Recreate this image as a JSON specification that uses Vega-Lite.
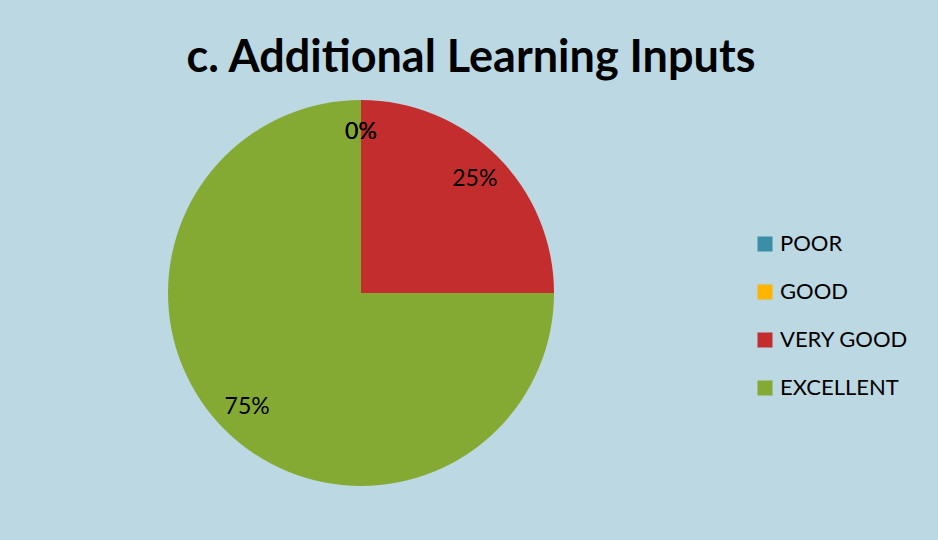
{
  "$schema": "https://vega.github.io/schema/vega-lite/v6.json",
  "autosize": {"type": "none"},
  "width": 386,
  "height": 386,
  "padding": {"left": 168, "top": 100, "right": 384, "bottom": 54},
  "background": "#bcd8e2",
  "title": {
    "text": "c. Additional Learning Inputs",
    "font": "Lato",
    "fontSize": 45,
    "fontWeight": "bold",
    "color": "#000000",
    "anchor": "middle",
    "dx": 110,
    "offset": 19
  },
  "data": {
    "values": [
      {"rating": "POOR", "value": 0, "label": "0%", "rank": 1},
      {"rating": "GOOD", "value": 0, "label": "0%", "rank": 2},
      {"rating": "VERY GOOD", "value": 25, "label": "25%", "rank": 3},
      {"rating": "EXCELLENT", "value": 75, "label": "75%", "rank": 4}
    ]
  },
  "encoding": {
    "theta": {"field": "value", "type": "quantitative", "stack": true},
    "order": {"field": "rank", "type": "quantitative", "sort": "ascending"},
    "color": {
      "field": "rating",
      "type": "nominal",
      "scale": {
        "domain": ["POOR", "GOOD", "VERY GOOD", "EXCELLENT"],
        "range": ["#3a8fa6", "#ffb400", "#c32d2e", "#85aa34"]
      },
      "legend": {
        "title": null,
        "orient": "none",
        "legendX": 586,
        "legendY": 133,
        "padding": 0,
        "symbolType": "square",
        "symbolSize": 225,
        "symbolStrokeWidth": 0,
        "labelFont": "Lato",
        "labelFontSize": 22,
        "labelColor": "#000000",
        "labelOffset": 4,
        "rowPadding": 26
      }
    }
  },
  "layer": [
    {"mark": {"type": "arc", "outerRadius": 193}},
    {
      "mark": {"type": "text", "radius": 161, "font": "Lato", "fontSize": 23},
      "encoding": {
        "text": {"field": "label", "type": "nominal"},
        "color": {"value": "#000000"}
      }
    }
  ],
  "config": {"view": {"stroke": null}}
}
